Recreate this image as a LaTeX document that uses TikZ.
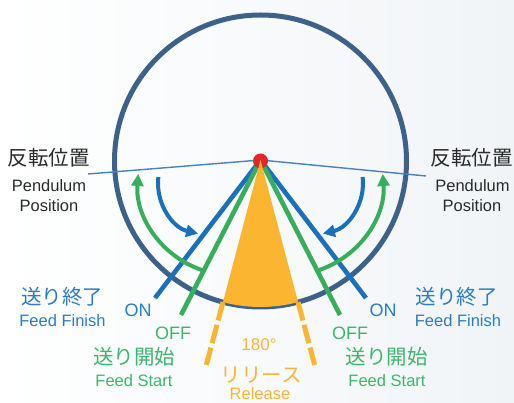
\documentclass[tikz,border=0pt]{standalone}
\usepackage{fontspec}
\setmainfont{Liberation Sans}
\newfontfamily\jpfont{Noto Sans CJK JP}
\usetikzlibrary{arrows.meta}
\definecolor{ringc}{HTML}{3E6189}
\definecolor{bluec}{HTML}{1B70BC}
\definecolor{bluet}{HTML}{2B7CC4}
\definecolor{greenc}{HTML}{37AE5C}
\definecolor{greent}{HTML}{3FB56B}
\definecolor{orangec}{HTML}{FBB531}
\definecolor{oranget}{HTML}{F9B43A}
\definecolor{redc}{HTML}{E4262A}
\definecolor{textc}{HTML}{2A2A2A}
\definecolor{pendc}{HTML}{4A80C0}
\definecolor{bgc}{HTML}{F1F4F7}
\begin{document}
\begin{tikzpicture}[x=1pt,y=-1pt,
  jptxt/.style={inner sep=0pt, font=\jpfont\fontsize{20.5}{22}\selectfont},
  entxt/.style={inner sep=0pt, font=\fontsize{16.5}{18}\selectfont},
  onoff/.style={inner sep=0pt, font=\fontsize{18}{20}\selectfont},
  ringline/.style={draw=ringc, line width=5pt},
  pendline/.style={draw=pendc, line width=1.4pt},
  bluebar/.style={draw=bluec, line width=4.6pt},
  greenbar/.style={draw=greenc, line width=4.6pt},
  bluearc/.style={draw=bluec, line width=4pt, -{Triangle[length=12pt,width=12pt]}},
  greenarc/.style={draw=greenc, line width=4pt, -{Triangle[length=12pt,width=12pt]}},
  orangedash/.style={draw=orangec, line width=5pt, dash pattern=on 19pt off 4.5pt}
]
\useasboundingbox (0,0) rectangle (514,403);
\shade[left color=white, right color=bgc] (0,0) rectangle (514,403);

\coordinate (P) at (260.5,160);
\coordinate (C) at (260.5,161);
\coordinate (PL) at (88,174);
\coordinate (PR) at (426,176);
\coordinate (BL) at (155,298);
\coordinate (GL) at (181,315);
\coordinate (BR) at (366,298);
\coordinate (GR) at (340,315);

% big ring
\draw[ringline] (C) circle[radius=146];
% pendulum position line
\draw[pendline] (PL) -- (P) -- (PR);
% ON / OFF bars
\draw[bluebar] (P) -- (BL);
\draw[bluebar] (P) -- (BR);
\draw[greenbar] (P) -- (GL);
\draw[greenbar] (P) -- (GR);

% curved arrows, left side
\draw[greenarc] (232,181) ++(108.6:94) arc[start angle=108.6, end angle=184.3, radius=94];
\draw[bluearc] (210,183) ++(186.6:52) arc[start angle=186.6, end angle=103.2, radius=52];
% mirrored, right side
\begin{scope}[xshift=521pt, xscale=-1]
\draw[greenarc] (232,181) ++(108.6:94) arc[start angle=108.6, end angle=184.3, radius=94];
\draw[bluearc] (210,183) ++(186.6:52) arc[start angle=186.6, end angle=103.2, radius=52];
\end{scope}

% pivot
\fill[redc] (C) circle[radius=7.5];
% release sector
\fill[orangec] (P) -- ++(104.8:147) arc[start angle=104.8, end angle=75.2, radius=147] -- cycle;
\draw[orangedash] (P) ++(104.8:147) -- ++(104.8:65);
\draw[orangedash] (P) ++(75.2:147) -- ++(75.2:65);

% texts
\node[jptxt, text=textc] (rl1) at (49,158) {反転位置};
\node[entxt, text=textc] (rl2) at (49,186) {Pendulum};
\node[entxt, text=textc] (rl3) at (49,206) {Position};
\node[jptxt, text=textc] (rr1) at (471.5,158) {反転位置};
\node[entxt, text=textc] (rr2) at (472.5,186) {Pendulum};
\node[entxt, text=textc] (rr3) at (472,206) {Position};

\node[jptxt, text=bluet] (fl1) at (62,297) {送り終了};
\node[entxt, text=bluet] (fl2) at (62.5,321) {Feed Finish};
\node[onoff, text=bluet] (onl) at (138,310) {ON};
\node[jptxt, text=bluet] (fr1) at (456.5,297) {送り終了};
\node[entxt, text=bluet] (fr2) at (458,321) {Feed Finish};
\node[onoff, text=bluet] (onr) at (383,310) {ON};

\node[onoff, text=greent] (offl) at (173,333) {OFF};
\node[onoff, text=greent] (offr) at (350,333) {OFF};
\node[jptxt, text=greent] (sl1) at (134,357) {送り開始};
\node[entxt, text=greent] (sl2) at (134,381) {Feed Start};
\node[jptxt, text=greent] (sr1) at (386.5,357) {送り開始};
\node[entxt, text=greent] (sr2) at (387,381) {Feed Start};

\node[onoff, text=oranget, font=\fontsize{17}{19}\selectfont] (deg) at (259,345) {180°};
\node[jptxt, text=oranget] (rel1) at (261,375) {リリース};
\node[entxt, text=oranget, anchor=base] (rel2) at (260,399.5) {Release};
\end{tikzpicture}
\end{document}
